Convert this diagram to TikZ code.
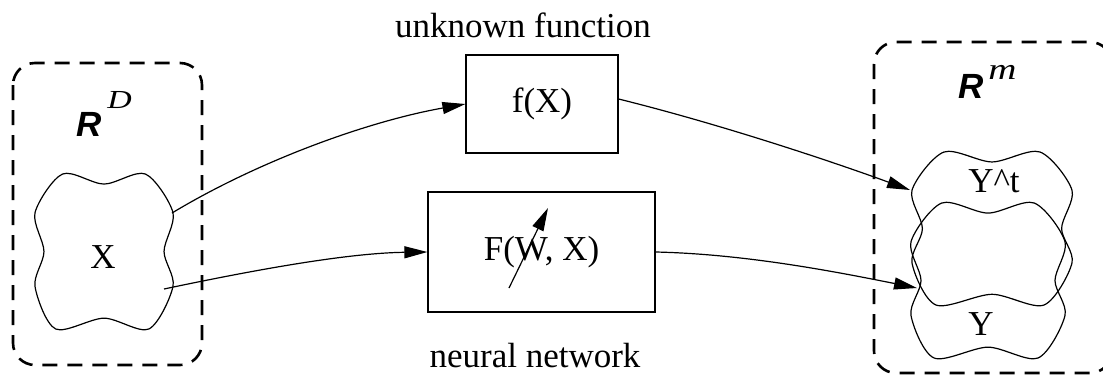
\documentclass[tikz,border=0pt]{standalone}
\usepackage{fontspec}
\setmainfont{Liberation Serif}
\newfontfamily\rfont{Liberation Sans}
\usetikzlibrary{arrows.meta}
\tikzset{
  pics/blob/.style={code={
    \draw[line width=1.2pt] plot[smooth cycle] coordinates {(-0.6,1) (0,0.87) (0.6,1) (1,0.5) (0.87,0) (1,-0.45) (0.65,-1) (0,-0.86) (-0.7,-1) (-1,-0.45) (-0.87,0) (-1,0.5)};
  }}
}
\begin{document}
\begin{tikzpicture}[x=1pt,y=-1pt,
  txt/.style={font=\fontsize{35}{40}\selectfont, inner sep=0pt},
  fbox/.style={draw, line width=1.2pt, inner sep=0pt, font=\fontsize{35}{40}\selectfont},
  region/.style={draw, line width=2.6pt, dash pattern=on 15pt off 10pt, rounded corners=22pt},
  arr/.style={line width=1.2pt, -{Triangle[length=23pt,width=12pt]}},
  bigR/.style={font=\rfont\bfseries\itshape\fontsize{35}{40}\selectfont, inner sep=0pt, anchor=base west},
  supr/.style={font=\itshape\fontsize{26}{30}\selectfont, inner sep=0pt, anchor=base west, xscale=1.3, transform shape}
]
\useasboundingbox (0,0) rectangle (1103,376);

% regions
\draw[region] (13,63) rectangle (202,365);
\draw[region] (874,42) rectangle (1112,373);
\node[bigR] (rd) at (76,136) {R};
\node[supr] (rdsup) at (107,108) {D};
\node[bigR] (rm) at (958,98) {R};
\node[supr, font=\itshape\fontsize{30}{34}\selectfont, xscale=1.0] (rmsup) at (988,79) {m};

% blobs
\pic[xscale=69, yscale=-77.5] at (104,251.5) {blob};
\pic[xscale=80, yscale=-76.5] at (992,228.5) {blob};
\pic[xscale=77, yscale=-77.5] at (988,280.5) {blob};
\node[txt] (xl) at (103,257) {X};
\node[txt] (ytl) at (994,181) {Y\textasciicircum t};
\node[txt] (yl) at (981,324) {Y};

% boxes
\node[fbox, minimum width=152pt, minimum height=98pt] (fx) at (542,104) {f(X)};
\node[fbox, minimum width=227pt, minimum height=120pt] (fw) at (541.5,252) {F(W, X)};
\node[txt, anchor=base] (uf) at (523,37) {unknown function};
\node[txt, anchor=base] (nn) at (535,367) {neural network};

% connector ends
\coordinate (xa) at (172,213);
\coordinate (xb) at (164,289);
\coordinate (yta) at (910,190);
\coordinate (yb) at (917,288);
\coordinate (wa) at (509,288);
\coordinate (wb) at (548,208);

\draw[arr] (xa) .. controls +(88,-53) and +(-96,17) .. (fx.west);
\draw[arr] (xb) .. controls +(90,-19) and +(-80,1) .. (fw.west);
\draw[arr] ([yshift=5pt]fx.east) .. controls +(97,24) and +(-85,-31) .. (yta);
\draw[arr] (fw.east) .. controls +(90,2) and +(-80,-16) .. (yb);
\draw[arr] (wa) -- (wb);
\end{tikzpicture}
\end{document}
